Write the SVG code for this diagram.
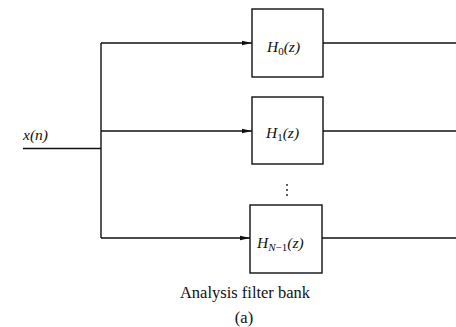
<svg xmlns="http://www.w3.org/2000/svg" width="456" height="327" viewBox="0 0 456 327">
<style>
.box{fill:#fff;stroke:#111;stroke-width:1.4}
.ln{fill:none;stroke:#111;stroke-width:1.4}
.t{font-family:"Liberation Serif",serif;font-style:italic;font-size:15.5px;fill:#111}
.c{font-family:"Liberation Serif",serif;font-size:16.5px;fill:#111;text-anchor:middle}
</style>
<defs>
<marker id="ah" markerWidth="10" markerHeight="6" refX="10" refY="3" orient="auto" markerUnits="userSpaceOnUse">
<path d="M0,0.8 L10,3 L0,5.2 Z" fill="#111"/>
</marker>
</defs>
<g id="connectors">
<path class="ln" d="M23,148.5 H101"/>
<path class="ln" d="M101,43 V238"/>
<path class="ln" d="M101,43 H252" marker-end="url(#ah)"/>
<path class="ln" d="M101,131 H252" marker-end="url(#ah)"/>
<path class="ln" d="M101,238 H250" marker-end="url(#ah)"/>
<path class="ln" d="M323,43 H456"/>
<path class="ln" d="M323,131 H456"/>
<path class="ln" d="M322,238 H456"/>
</g>
<text class="t" x="23" y="140" font-size="17">x(n)</text>
<g id="H0">
<rect class="box" x="252" y="9" width="71" height="68"/>
<text class="t" x="267" y="52">H<tspan font-size="11" dy="3" font-style="normal">0</tspan><tspan dy="-3">(z)</tspan></text>
</g>
<g id="H1">
<rect class="box" x="252" y="97" width="71" height="67"/>
<text class="t" x="266" y="138">H<tspan font-size="11" dy="3" font-style="normal">1</tspan><tspan dy="-3">(z)</tspan></text>
</g>
<g id="dots">
<circle cx="287" cy="185" r="0.9" fill="#111"/>
<circle cx="287" cy="190" r="0.9" fill="#111"/>
<circle cx="287" cy="195" r="0.9" fill="#111"/>
</g>
<g id="HN1">
<rect class="box" x="250" y="205" width="72" height="68"/>
<text class="t" x="257" y="248">H<tspan font-size="11" dy="3">N</tspan><tspan font-size="11" font-style="normal">−1</tspan><tspan dy="-3">(z)</tspan></text>
</g>
<text class="c" x="245" y="298">Analysis filter bank</text>
<text class="c" x="244" y="323" font-size="15">(a)</text>
</svg>
